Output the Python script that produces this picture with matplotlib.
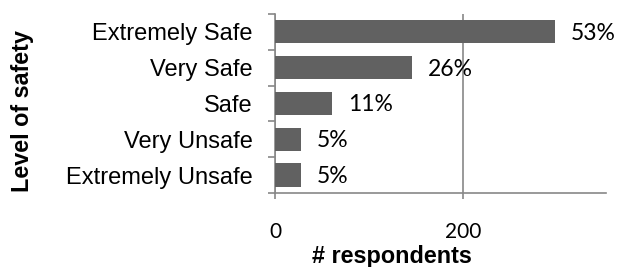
import matplotlib
matplotlib.use("Agg")
import matplotlib.pyplot as plt

categories = ["Extremely Unsafe", "Very Unsafe", "Safe", "Very Safe", "Extremely Safe"]
respondents = [28, 28, 61, 146, 298]
pct_labels = ["5%", "5%", "11%", "26%", "53%"]
xticks = [0, 200]

fig = plt.figure(figsize=(6.18, 2.67), dpi=100)
ax = fig.add_axes([0.445, 0.277, 0.536, 0.671])

y = list(range(len(categories)))
ax.barh(y, respondents, height=0.65, color="#616161", zorder=3)
ax.set_xlim(0, 352)
ax.set_ylim(-0.5, len(categories) - 0.5)

ax.set_yticks(y)
ax.set_yticklabels(categories, family="Liberation Sans", fontsize=17)
ax.set_yticks([i - 0.5 for i in range(len(categories) + 1)], minor=True)
ax.tick_params(axis="y", which="major", length=0, pad=16)
ax.tick_params(axis="y", which="minor", length=5, color="#888888", width=1.2, direction="out")

ax.set_xticks(xticks)
ax.set_xticklabels([str(t) for t in xticks], family="Lato", fontsize=15)
ax.tick_params(axis="x", which="major", length=4, width=1.2, color="#888888",
               direction="out", pad=17)
ax.xaxis.grid(True, color="#888888", linewidth=1.2, zorder=0)

for s in ["top", "right"]:
    ax.spines[s].set_visible(False)
for s in ["left", "bottom"]:
    ax.spines[s].set_color("#888888")
    ax.spines[s].set_linewidth(1.2)

for yi, v, lab in zip(y, respondents, pct_labels):
    ax.annotate(lab, (v, yi), xytext=(11, -1), textcoords="offset points",
                va="center", ha="left", family="Lato", fontsize=16.5, zorder=4)

fig.text(0.634, 0.041, "# respondents", family="Liberation Sans", fontweight="bold",
         fontsize=16.8, ha="center", va="center")
fig.text(0.037, 0.584, "Level of safety", rotation=90, family="Liberation Sans",
         fontweight="bold", fontsize=16.8, ha="center", va="center")

fig.savefig("out.png", dpi=100)
